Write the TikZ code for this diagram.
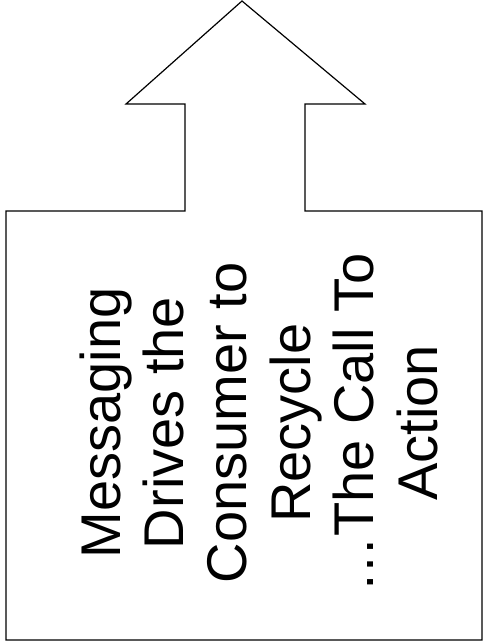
\documentclass[tikz,border=0pt]{standalone}
\usepackage{fontspec}
\setmainfont{Liberation Sans}
\usepackage{tikz}

\begin{document}
\begin{tikzpicture}[x=1pt, y=-1pt, line width=1.2pt]
    \useasboundingbox (0,0) rectangle (484,644);

    \draw[line join=miter] (6,211) -- (185,211) -- (185,104) -- (126,104) -- (242,1) -- (365,104) -- (305,104) -- (305,211) -- (482,211) -- (482,640) -- (6,640) -- cycle;

    \node (msg) [rotate=90, align=center, inner sep=0pt, font=\fontsize{56}{63.4}\selectfont] at (258.5,423) {Messaging\\Drives the\\Consumer to\\Recycle\\\ldots The Call To\\Action};
\end{tikzpicture}
\end{document}
